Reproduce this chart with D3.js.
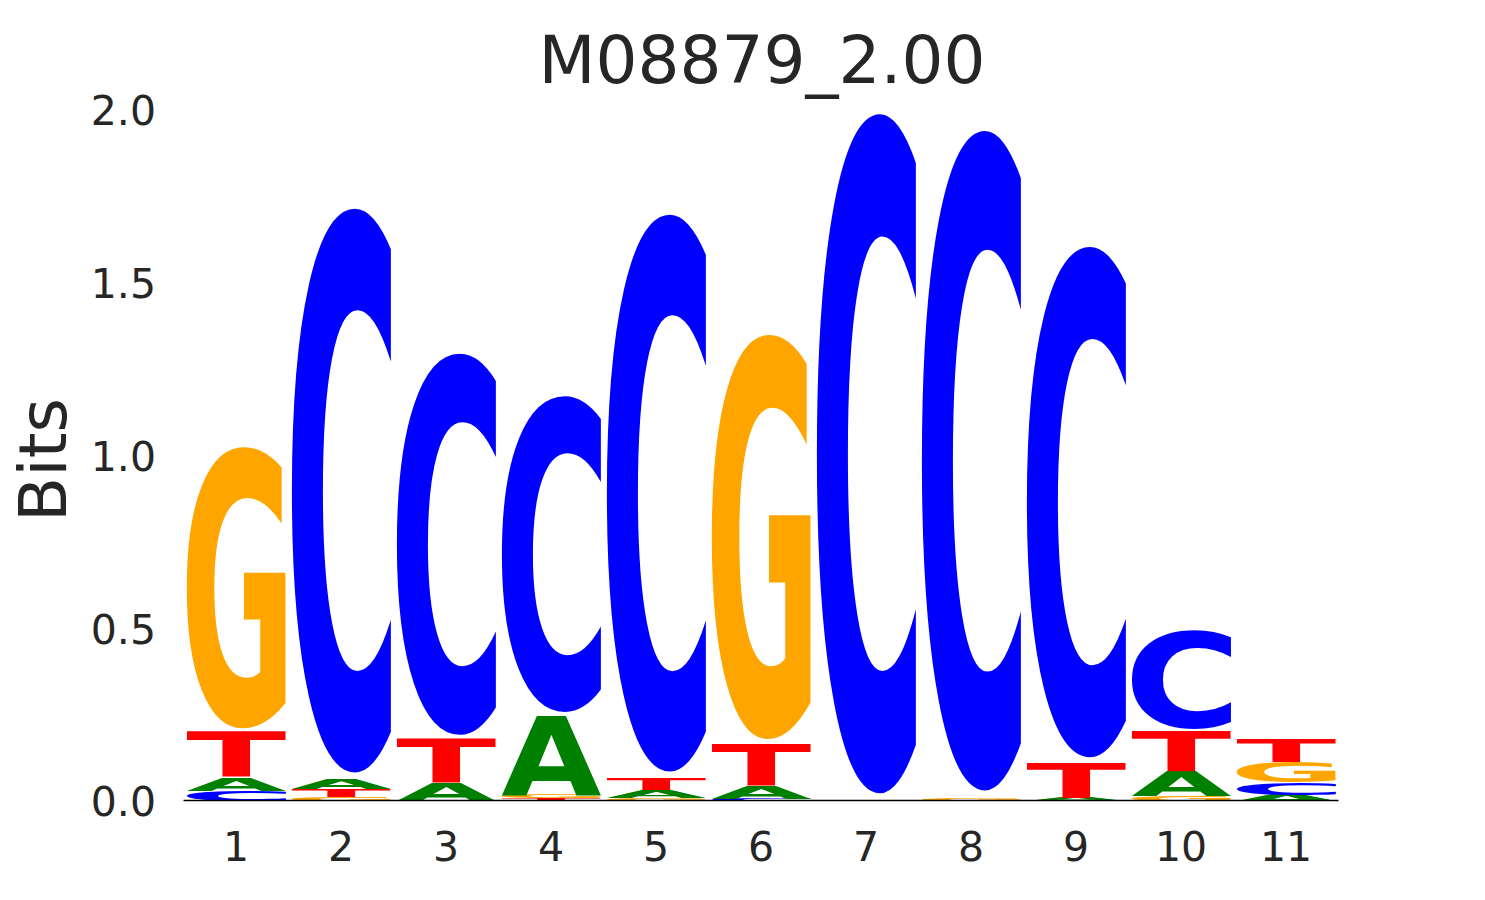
<!DOCTYPE html>
<html><head><meta charset="utf-8">
<script src="https://cdn.jsdelivr.net/npm/d3@7"></script>
<style>
body{margin:0;background:#fff;}
text.lbl{font-family:'DejaVu Sans',sans-serif;fill:#262626;}
</style>
</head><body>
<svg id="chart" width="1485" height="900"></svg>
<script>
// ---- data (information content in bits) ----
const positions = [1,2,3,4,5,6,7,8,9,10,11];
const bases = ['A','C','G','T'];
const aBits = [0.038, 0.029, 0.052, 0.229, 0.023, 0.038, 0.000, 0.000, 0.009, 0.072, 0.017];
const cBits = [0.030, 1.673, 1.131, 0.937, 1.652, 0.006, 2.015, 1.957, 1.514, 0.292, 0.035];
const gBits = [0.834, 0.012, 0.000, 0.010, 0.009, 1.199, 0.000, 0.009, 0.000, 0.014, 0.061];
const tBits = [0.133, 0.023, 0.127, 0.008, 0.035, 0.122, 0.000, 0.000, 0.101, 0.119, 0.067];
const yTicks = [0, 0.5, 1.0, 1.5, 2.0];
const titleText = 'M08879_2.00';
const yLabel = 'Bits';
const baseColors = {A:'#008000', C:'#0000ff', G:'#ffa500', T:'#ff0000'};

const seriesByBase = {A:aBits, C:cBits, G:gBits, T:tBits};

const svg = d3.select('#chart');
const x = d3.scaleBand().domain(positions).range([183.5, 1338.5]).paddingInner(0.05).paddingOuter(0.025);
const y = d3.scaleLinear().domain([0, 2]).range([801, 110]);

// glyph metrics
const cv = document.createElement('canvas');
const ctx = cv.getContext('2d');
const FS = 200;
ctx.font = "bold " + FS + "px 'DejaVu Sans'";
const metrics = {};
bases.forEach(b => {
  const m = ctx.measureText(b);
  metrics[b] = {l: m.actualBoundingBoxLeft, r: m.actualBoundingBoxRight,
                a: m.actualBoundingBoxAscent, d: m.actualBoundingBoxDescent};
});

// build stacks (smallest at the bottom)
const glyphs = [];
positions.forEach((p, i) => {
  const items = bases.map(b => ({base:b, v:seriesByBase[b][i]})).filter(d => d.v > 0)
    .sort((a, b) => a.v - b.v);
  let acc = 0;
  items.forEach(d => {
    glyphs.push({pos:p, base:d.base, y0:acc, y1:acc + d.v});
    acc += d.v;
  });
});

const gLetters = svg.append('g');
glyphs.forEach(d => {
  const m = metrics[d.base];
  const gw = m.l + m.r, gh = m.a + m.d;
  const bx = x(d.pos), bw = x.bandwidth();
  let top = y(d.y1), bot = y(d.y0);
  const H = bot - top;
  if (d.base === 'C' || d.base === 'G') { top += 0.01 * H; bot -= 0.01 * H; }
  const vh = bot - top;
  gLetters.append('text')
    .attr('x', 0).attr('y', 0)
    .attr('font-family', "'DejaVu Sans', sans-serif")
    .attr('font-weight', 'bold')
    .attr('font-size', FS)
    .attr('fill', baseColors[d.base])
    .attr('transform', `translate(${bx},${top}) scale(${bw / gw},${vh / gh}) translate(${m.l},${m.a})`)
    .text(d.base);
});

// x axis baseline
svg.append('line')
  .attr('x1', x.range()[0]).attr('x2', x.range()[1])
  .attr('y1', y(0) - 0.5).attr('y2', y(0) - 0.5)
  .attr('stroke', '#000').attr('stroke-width', 1.6);

// x tick labels
const xAxis = d3.axisBottom(x).tickSize(0).tickPadding(0);
const gx = svg.append('g').attr('transform', `translate(0,${847})`).call(xAxis);
gx.select('.domain').remove();
gx.selectAll('text').attr('class', 'lbl').attr('font-size', 41).attr('dy', '0.35em').attr('y', 0)
  .style('font-family', "'DejaVu Sans', sans-serif").attr('fill', '#262626');

// y tick labels
const yAxis = d3.axisLeft(y).tickValues(yTicks).tickFormat(d3.format('.1f')).tickSize(0).tickPadding(0);
const gy = svg.append('g').attr('transform', `translate(156,0)`).call(yAxis);
gy.select('.domain').remove();
gy.selectAll('text').attr('class', 'lbl').attr('font-size', 41).attr('dy', '0.36em').attr('x', 0)
  .style('font-family', "'DejaVu Sans', sans-serif").attr('fill', '#262626');

// y label
svg.append('text').attr('class', 'lbl')
  .attr('transform', 'translate(66,460) rotate(-90)')
  .attr('text-anchor', 'middle')
  .attr('font-size', 66)
  .text(yLabel);

// title
svg.append('text').attr('class', 'lbl')
  .attr('x', 762).attr('y', 83)
  .attr('text-anchor', 'middle')
  .attr('font-size', 66)
  .text(titleText);
</script>
</body></html>
